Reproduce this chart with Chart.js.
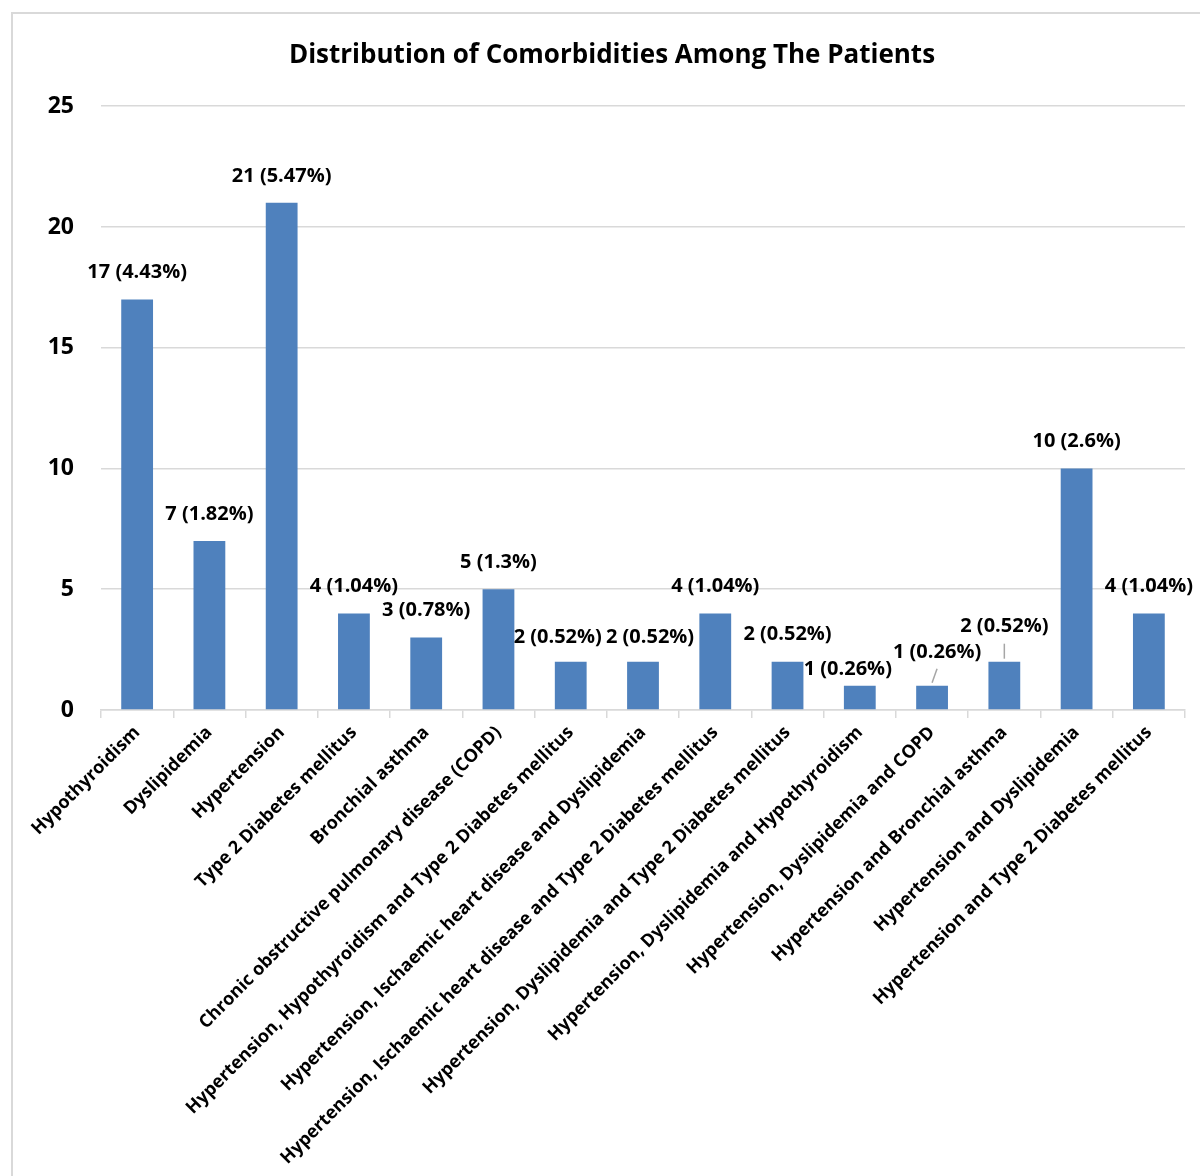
<!DOCTYPE html>
<html>
<head>
<meta charset="utf-8">
<script src="https://cdn.jsdelivr.net/npm/chart.js@4.4.1/dist/chart.umd.min.js"></script>
<style>
  body { margin: 0; background: #fff; }
  #wrap { position: relative; width: 1200px; height: 1176px; overflow: hidden; }
  #frame { position: absolute; left: 11px; top: 12px; width: 1250px; height: 1250px; border: 2px solid #d9d9d9; box-sizing: border-box; }
  #grafik { position: absolute; left: 0; top: 0; }
</style>
</head>
<body>
<div id="wrap">
  <div id="frame"></div>
  <canvas id="grafik" width="1200" height="1176"></canvas>
</div>
<script>
const kategori = [
  'Hypothyroidism',
  'Dyslipidemia',
  'Hypertension',
  'Type 2 Diabetes mellitus',
  'Bronchial asthma',
  'Chronic obstructive pulmonary disease (COPD)',
  'Hypertension, Hypothyroidism and Type 2 Diabetes mellitus',
  'Hypertension, Ischaemic heart disease and Dyslipidemia',
  'Hypertension, Ischaemic heart disease and Type 2 Diabetes mellitus',
  'Hypertension, Dyslipidemia and Type 2 Diabetes mellitus',
  'Hypertension, Dyslipidemia and Hypothyroidism',
  'Hypertension, Dyslipidemia and COPD',
  'Hypertension and Bronchial asthma',
  'Hypertension and Dyslipidemia',
  'Hypertension and Type 2 Diabetes mellitus'
];
const jumlah = [17, 7, 21, 4, 3, 5, 2, 2, 4, 2, 1, 1, 2, 10, 4];
const persen = [4.43, 1.82, 5.47, 1.04, 0.78, 1.3, 0.52, 0.52, 1.04, 0.52, 0.26, 0.26, 0.52, 2.6, 1.04];
const tickY = [0, 5, 10, 15, 20, 25];

const fontUtama = "'Open Sans', Lato, sans-serif";

// geser label yang bertumpuk (dx, dy dalam piksel) + garis penunjuk
const geserLabel = {
  6: { dx: -13, dy: 3 },
  7: { dx: 7, dy: 3 },
  10: { dx: -12, dy: 10 },
  11: { dx: 5, dy: -7, garis: true },
  12: { dx: 0, dy: -8, garis: true }
};

const labelNilai = {
  id: 'labelNilai',
  afterDatasetsDraw(chart) {
    const c = chart.ctx;
    const meta = chart.getDatasetMeta(0);
    c.save();
    c.font = "bold 20px " + fontUtama;
    c.fillStyle = '#000';
    c.textAlign = 'center';
    c.textBaseline = 'middle';
    meta.data.forEach((bar, i) => {
      const g = geserLabel[i] || { dx: 0, dy: 0 };
      const tx = bar.x + g.dx;
      const ty = bar.y - 27 + g.dy;
      if (g.garis) {
        c.strokeStyle = '#a6a6a6';
        c.lineWidth = 1.5;
        c.beginPath();
        c.moveTo(tx, ty + 17);
        c.lineTo(bar.x, bar.y - 3);
        c.stroke();
      }
      c.fillText(jumlah[i] + ' (' + persen[i] + '%)', tx, ty);
    });
    c.restore();
  }
};

const ctx = document.getElementById('grafik').getContext('2d');

const chart = new Chart(ctx, {
  type: 'bar',
  data: {
    labels: kategori,
    datasets: [{
      data: jumlah,
      backgroundColor: '#4F81BD',
      categoryPercentage: 1,
      barPercentage: 0.44
    }]
  },
  options: {
    responsive: false,
    animation: false,
    layout: { padding: { left: 39, right: 15, top: 0, bottom: 0 } },
    plugins: {
      legend: { display: false },
      tooltip: { enabled: false },
      title: {
        display: true,
        text: 'Distribution of Comorbidities Among The Patients',
        color: '#000',
        font: { family: fontUtama, size: 26, weight: 'bold', lineHeight: 1.2 },
        padding: { top: 40, bottom: 35 }
      }
    },
    scales: {
      y: {
        min: 0,
        max: 25,
        afterBuildTicks: (s) => { s.ticks = tickY.map(v => ({ value: v })); },
        afterFit: (s) => { s.width = 62; },
        border: { display: false },
        grid: { color: '#d9d9d9', lineWidth: 1.5, drawTicks: false },
        ticks: {
          color: '#000',
          padding: 27,
          font: { family: fontUtama, size: 23, weight: 'bold' }
        }
      },
      x: {
        afterFit: (s) => { s.height = 466; },
        border: { display: true, color: '#d9d9d9', width: 1.5 },
        grid: { offset: true, drawOnChartArea: false, color: '#d9d9d9', lineWidth: 1.5, tickLength: 8 },
        ticks: {
          color: '#000',
          autoSkip: false,
          maxRotation: 45,
          minRotation: 45,
          padding: 4,
          font: { family: fontUtama, size: 18, weight: 'bold' }
        }
      }
    }
  },
  plugins: [labelNilai]
});
</script>
</body>
</html>
